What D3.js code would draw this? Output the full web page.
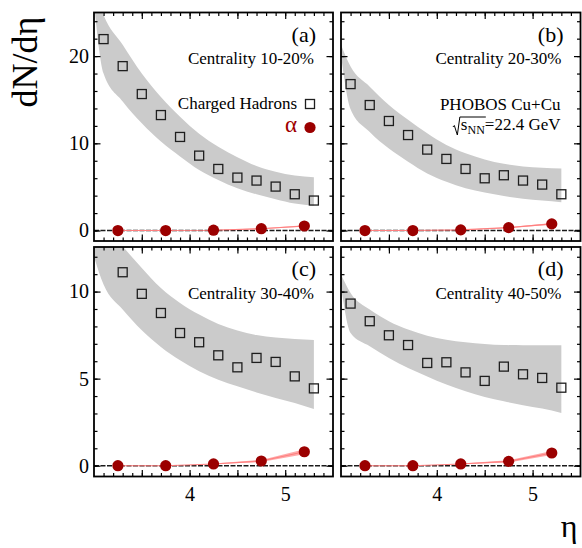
<!DOCTYPE html>
<html><head><meta charset="utf-8">
<script src="https://cdn.jsdelivr.net/npm/d3@7"></script>
<style>body{margin:0;background:#fff}svg{display:block}</style>
</head><body>
<svg id="chart" width="582" height="548"></svg>
<script>
// ---------------- data ----------------
const etaCH = [3.1, 3.3, 3.5, 3.7, 3.9, 4.1, 4.3, 4.5, 4.7, 4.9, 5.1, 5.3];
const chA = [21.95, 18.85, 15.65, 13.24, 10.73, 8.59, 7.06, 6.07, 5.73, 5.04, 4.16, 3.44];
const chB = [16.79, 14.39, 12.56, 10.95, 9.28, 8.21, 7.06, 5.99, 6.34, 5.73, 5.27, 4.16];
const chC = [null, 11.11, 9.87, 8.77, 7.62, 7.09, 6.34, 5.65, 6.19, 5.96, 5.13, 4.44];
const chD = [9.31, 8.30, 7.49, 6.93, 5.90, 5.94, 5.36, 4.87, 5.69, 5.25, 5.04, 4.48];

const etaBand = [3.0, 3.1, 3.3, 3.5, 3.7, 3.9, 4.1, 4.3, 4.5, 4.7, 4.9, 5.1, 5.3];
const bandHiA = [28.0, 24.7, 21.3, 18.0, 15.3, 13.05, 11.1, 9.6, 8.4, 7.4, 6.75, 6.3, 6.1];
const bandLoA = [26.0, 18.0, 14.8, 12.3, 10.2, 8.5, 6.95, 5.8, 4.85, 4.15, 3.6, 3.1, 2.85];
const bandHiB = [21.3, 18.8, 16.5, 14.4, 12.7, 11.15, 9.8, 8.85, 8.15, 7.65, 7.35, 7.2, 7.1];
const bandLoB = [20.1, 13.9, 11.3, 9.4, 7.9, 6.55, 5.6, 4.85, 4.35, 3.95, 3.65, 3.45, 3.25];
const bandHiC = [15.5, 14.0, 12.6, 11.36, 10.2, 9.35, 8.68, 8.14, 7.76, 7.5, 7.36, 7.28, 7.22];
const bandLoC = [12.0, 10.4, 8.97, 7.78, 6.82, 6.05, 5.42, 4.94, 4.56, 4.21, 3.89, 3.6, 3.26];
const bandHiD = [10.98, 9.92, 8.97, 8.3, 7.82, 7.47, 7.24, 7.09, 6.99, 6.93, 6.92, 6.92, 6.92];
const bandLoD = [10.3, 7.62, 6.86, 6.19, 5.61, 5.13, 4.66, 4.27, 3.95, 3.7, 3.47, 3.28, 3.03];

const etaAlpha = [3.25, 3.75, 4.25, 4.75, 5.2];
const alphaA = [0.0, 0.0, 0.04, 0.21, 0.52];
const alphaB = [0.0, 0.0, 0.08, 0.33, 0.76];
const alphaC = [0.0, 0.0, 0.10, 0.27, 0.80];
const alphaD = [0.0, 0.0, 0.10, 0.25, 0.73];
const alphaErrA = [0.0, 0.0, 0.01, 0.04, 0.08];
const alphaErrB = [0.0, 0.0, 0.01, 0.05, 0.10];
const alphaErrC = [0.0, 0.0, 0.02, 0.06, 0.14];
const alphaErrD = [0.0, 0.0, 0.02, 0.06, 0.12];

const centralities = ["Centrality 10-20%", "Centrality 20-30%", "Centrality 30-40%", "Centrality 40-50%"];
const panelTags = ["(a)", "(b)", "(c)", "(d)"];

const xDomain = [3.0, 5.5];
const xMajorTicks = [3.5, 4, 4.5, 5];
const xLabelTicks = [4, 5];
const xLabels = ["4", "5"];
const yDomainTop = [-1.2, 25];
const yDomainBot = [-0.62, 12.56];
const yMajorTop = [0, 10, 20];
const yLabelsTop = ["0", "10", "20"];
const yMajorBot = [0, 5, 10];
const yLabelsBot = ["0", "5", "10"];

// ---------------- layout ----------------
const FONT = "'Liberation Serif','Times New Roman',Times,serif";
const svg = d3.select("#chart");
const L = [
  {x0: 94, x1: 333, y0: 12.5, y1: 241, top: true, left: true},
  {x0: 341, x1: 580.5, y0: 12.5, y1: 241, top: true, left: false},
  {x0: 94, x1: 333, y0: 247, y1: 476.5, top: false, left: true},
  {x0: 341, x1: 580.5, y0: 247, y1: 476.5, top: false, left: false}
];
const chSets = [chA, chB, chC, chD];
const bandSets = [[bandLoA, bandHiA], [bandLoB, bandHiB], [bandLoC, bandHiC], [bandLoD, bandHiD]];
const alphaSets = [[alphaA, alphaErrA], [alphaB, alphaErrB], [alphaC, alphaErrC], [alphaD, alphaErrD]];

const defs = svg.append("defs");

L.forEach((p, i) => {
  const x = d3.scaleLinear().domain(xDomain).range([p.x0, p.x1]);
  const y = d3.scaleLinear().domain(p.top ? yDomainTop : yDomainBot).range([p.y1, p.y0]);
  const g = svg.append("g");
  defs.append("clipPath").attr("id", "clip" + i).append("rect")
    .attr("x", p.x0).attr("y", p.y0).attr("width", p.x1 - p.x0).attr("height", p.y1 - p.y0);
  const plot = g.append("g").attr("clip-path", `url(#clip${i})`);

  // gray band
  const [lo, hi] = bandSets[i];
  const bandData = etaBand.map((e, k) => ({e, lo: lo[k], hi: hi[k]}));
  plot.append("path").datum(bandData)
    .attr("d", d3.area().x(d => x(d.e)).y0(d => y(d.lo)).y1(d => y(d.hi)).curve(d3.curveMonotoneX))
    .attr("fill", "#cbcbcb");

  // zero line
  plot.append("line").attr("x1", p.x0).attr("x2", p.x1).attr("y1", y(0)).attr("y2", y(0))
    .attr("stroke", "#1a1a1a").attr("stroke-width", 1.6).attr("stroke-dasharray", "5,1.5");

  // alpha band + line
  const [av, ae] = alphaSets[i];
  const aData = etaAlpha.map((e, k) => ({e, v: av[k], lo: av[k] - ae[k], hi: av[k] + ae[k]}));
  plot.append("path").datum(aData.slice(2))
    .attr("d", d3.area().x(d => x(d.e)).y0(d => y(d.lo)).y1(d => y(d.hi)))
    .attr("fill", "#ff9a9a").attr("opacity", 0.85);
  plot.append("path").datum(aData)
    .attr("d", d3.line().x(d => x(d.e)).y(d => y(d.v)))
    .attr("fill", "none").attr("stroke", "#ff7f7f").attr("stroke-width", 1.1);

  // squares
  const chData = etaCH.map((e, k) => ({e, v: chSets[i][k]})).filter(d => d.v !== null);
  plot.selectAll("rect.sq").data(chData).join("rect").attr("class", "sq")
    .attr("x", d => x(d.e) - 4.5).attr("y", d => y(d.v) - 4.5)
    .attr("width", 9).attr("height", 9)
    .attr("fill", "none").attr("stroke", "#1e1e1e").attr("stroke-width", 1.3);

  // alpha dots
  plot.selectAll("circle.al").data(aData).join("circle").attr("class", "al")
    .attr("cx", d => x(d.e)).attr("cy", d => y(d.v)).attr("r", 5.6)
    .attr("fill", "#9b0000");

  // axes (ticks inward on all sides)
  const xMinor = d3.range(31, 55).map(d => d / 10);
  const yMinor = p.top ? d3.range(0, 25, 2) : d3.range(0, 13, 1);
  const yMaj = p.top ? yMajorTop : yMajorBot;
  const yLab = p.top ? yLabelsTop : yLabelsBot;
  const style = sel => {
    sel.select(".domain").remove();
    sel.selectAll(".tick line").attr("stroke", "#000").attr("stroke-width", 1.2);
    sel.selectAll("text").attr("font-family", FONT).attr("font-size", 20).attr("fill", "#000");
  };
  const add = (axis, tx, ty) => g.append("g").attr("transform", `translate(${tx},${ty})`).call(axis).call(style);
  // bottom
  add(d3.axisBottom(x).tickValues(xMinor).tickSize(-3.5).tickFormat(""), 0, p.y1);
  if (!p.top) {
    add(d3.axisBottom(x).tickValues(xMajorTicks).tickSize(-6.5).tickPadding(10)
      .tickFormat(d => { const k = xLabelTicks.indexOf(d); return k >= 0 ? xLabels[k] : ""; }), 0, p.y1);
  } else {
    add(d3.axisBottom(x).tickValues(xMajorTicks).tickSize(-6.5).tickFormat(""), 0, p.y1);
  }
  // top
  add(d3.axisTop(x).tickValues(xMinor).tickSize(-3.5).tickFormat(""), 0, p.y0);
  add(d3.axisTop(x).tickValues(xMajorTicks).tickSize(-6.5).tickFormat(""), 0, p.y0);
  // left
  add(d3.axisLeft(y).tickValues(yMinor).tickSize(-3.5).tickFormat(""), p.x0, 0);
  add(d3.axisLeft(y).tickValues(yMaj).tickSize(-6.5).tickPadding(5)
    .tickFormat((d, k) => p.left ? yLab[k] : ""), p.x0, 0);
  // right
  add(d3.axisRight(y).tickValues(yMinor).tickSize(-3.5).tickFormat(""), p.x1, 0);
  add(d3.axisRight(y).tickValues(yMaj).tickSize(-6.5).tickFormat(""), p.x1, 0);

  // frame
  g.append("rect").attr("x", p.x0).attr("y", p.y0).attr("width", p.x1 - p.x0).attr("height", p.y1 - p.y0)
    .attr("fill", "none").attr("stroke", "#000").attr("stroke-width", 1.8);

  // panel tag + centrality
  g.append("text").attr("x", p.x1 - 17).attr("y", p.y0 + 29).attr("text-anchor", "end")
    .attr("font-family", FONT).attr("font-size", 22).text(panelTags[i]);
  g.append("text").attr("x", p.x1 - 19).attr("y", p.y0 + 51.5).attr("text-anchor", "end")
    .attr("font-family", FONT).attr("font-size", 17).text(centralities[i]);

  if (i === 0) {
    g.append("text").attr("x", p.x1 - 36).attr("y", 109).attr("text-anchor", "end")
      .attr("font-family", FONT).attr("font-size", 17).text("Charged Hadrons");
    g.append("rect").attr("x", p.x1 - 27.5).attr("y", 99.5).attr("width", 9).attr("height", 9)
      .attr("fill", "none").attr("stroke", "#1e1e1e").attr("stroke-width", 1.3);
    g.append("text").attr("x", p.x1 - 36).attr("y", 132).attr("text-anchor", "end")
      .attr("font-family", FONT).attr("font-size", 23).attr("fill", "#a00000").text("α");
    g.append("circle").attr("cx", p.x1 - 23).attr("cy", 127.5).attr("r", 5.6).attr("fill", "#9b0000");
  }
  if (i === 1) {
    g.append("text").attr("x", p.x1 - 20).attr("y", 110).attr("text-anchor", "end")
      .attr("font-family", FONT).attr("font-size", 17).text("PHOBOS Cu+Cu");
    const t = g.append("text").attr("x", p.x1 - 20).attr("y", 130).attr("text-anchor", "end")
      .attr("font-family", FONT).attr("font-size", 17);
    t.append("tspan").text("s");
    t.append("tspan").attr("font-size", 12).attr("dy", 4).text("NN");
    t.append("tspan").attr("dy", -4).text("=22.4 GeV");
    const n = t.node();
    const c0 = n.getExtentOfChar(0), c2 = n.getExtentOfChar(2);
    const x0 = c0.x, xe = c2.x + c2.width, yb = 130;
    g.append("path")
      .attr("d", `M${x0 - 8},${yb - 3} L${x0 - 6.5},${yb - 4.5} L${x0 - 3.5},${yb + 5} L${x0 - 1},${yb - 13} L${xe + 1},${yb - 13}`)
      .attr("fill", "none").attr("stroke", "#000").attr("stroke-width", 1);
  }
});

// axis titles
svg.append("text").attr("transform", "translate(37,62) rotate(-90)").attr("text-anchor", "middle")
  .attr("font-family", FONT).attr("font-size", 36).text("dN/dη");
svg.append("text").attr("x", 569).attr("y", 537).attr("text-anchor", "middle")
  .attr("font-family", FONT).attr("font-size", 32).text("η");
</script>
</body></html>
